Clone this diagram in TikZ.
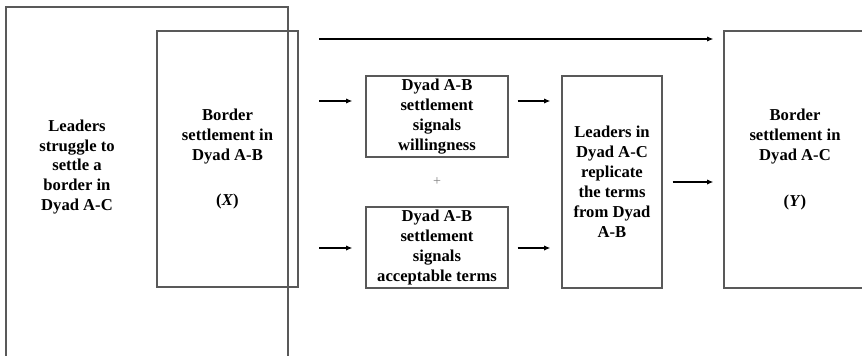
\documentclass[tikz,border=0pt]{standalone}
\usepackage{fontspec}
\setmainfont{Liberation Serif}
\usetikzlibrary{arrows.meta}

\begin{document}
\begin{tikzpicture}[
  x=0.03cm, y=-0.03cm,
  box/.style={draw=black!65, line width=0.9pt, align=center, inner sep=2pt,
              font=\fontsize{14.2}{17}\selectfont\bfseries},
  txt/.style={align=center, font=\fontsize{14.2}{17}\selectfont\bfseries},
  flow/.style={-{Latex[length=5.5pt,width=4.5pt]}, line width=1.3pt},
  plus/.style={font=\large, text=black!50}
]

%% ── Frame (picture is cropped at right and bottom) ──────────────────────────────
\useasboundingbox (0,0) rectangle (862,355);
\clip (0,0) rectangle (862,355);

%% ── Boxes ─────────────────────────────────────────────────────────────────────
\node[box, minimum width=8.46cm, minimum height=11.79cm] (struggle) at (147,203.5) {};
\node[txt] (struggletxt) at (77,167)
  {Leaders\\struggle to\\settle a\\border in\\Dyad A-C};
\node[box, minimum width=4.23cm, minimum height=7.68cm] (settleX) at (227.5,159)
  {Border\\settlement in\\Dyad A-B\\[22pt](\textit{X})};
\node[box, minimum width=4.26cm, minimum height=2.43cm] (willing) at (437,116.5)
  {Dyad A-B\\settlement\\signals\\willingness};
\node[plus] (and) at (437,182) {+};
\node[box, minimum width=4.26cm, minimum height=2.43cm] (terms) at (437,247.5)
  {Dyad A-B\\settlement\\signals\\acceptable terms};
\node[box, minimum width=3.0cm, minimum height=6.36cm] (replicate) at (612,182)
  {Leaders in\\Dyad A-C\\replicate\\the terms\\from Dyad\\A-B};
\node[box, minimum width=4.26cm, minimum height=7.71cm] (settleY) at (795,159.5)
  {Border\\settlement in\\Dyad A-C\\[22pt](\textit{Y})};

%% ── Arrow tails ───────────────────────────────────────────────────────────────
\coordinate (direct) at (319,39);
\coordinate (toW)    at (319,101);
\coordinate (toT)    at (319,248);

%% ── Arrows ────────────────────────────────────────────────────────────────────
\draw[flow, shorten >=0.3cm] (direct) -- (direct -| settleY.west);
\draw[flow, shorten >=0.39cm] (toW) -- (toW -| willing.west);
\draw[flow, shorten >=0.39cm] (toT) -- (toT -| terms.west);
\draw[flow, shorten <=0.27cm, shorten >=0.33cm] (willing.east |- toW) -- (replicate.west |- toW);
\draw[flow, shorten <=0.27cm, shorten >=0.33cm] (terms.east |- toT) -- (replicate.west |- toT);
\draw[flow, shorten <=0.3cm, shorten >=0.3cm] (replicate.east) -- (replicate.east -| settleY.west);

\end{tikzpicture}
\end{document}
